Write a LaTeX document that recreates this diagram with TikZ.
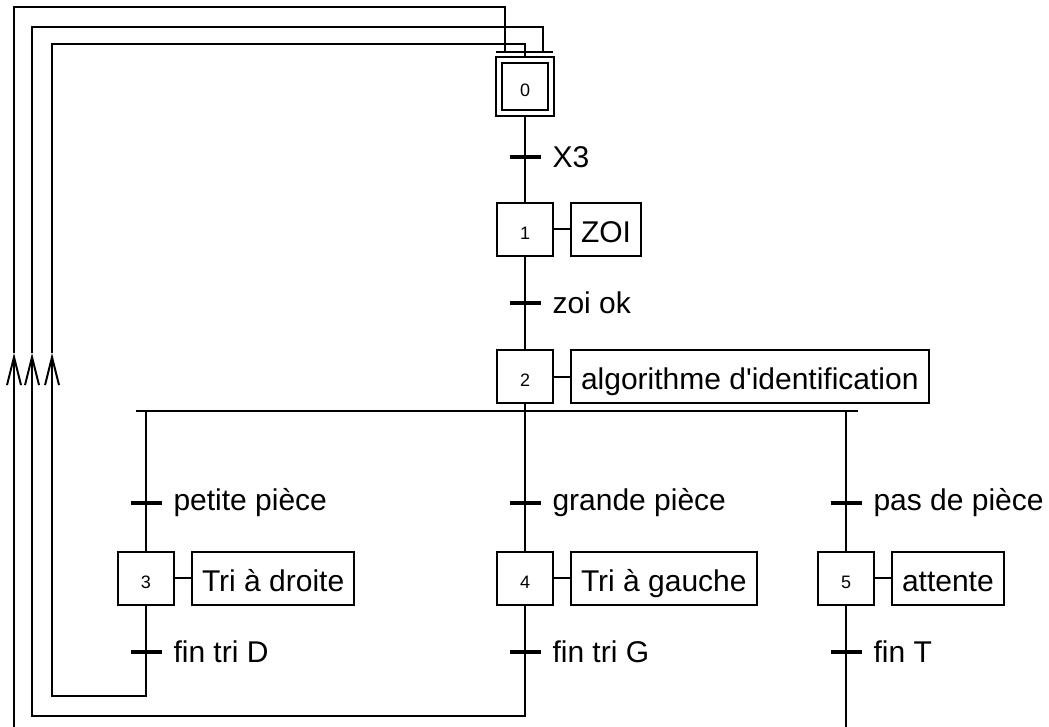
\documentclass[tikz,border=0pt]{standalone}
\usepackage{fontspec}
\setmainfont{Liberation Sans}
\usetikzlibrary{positioning,arrows.meta,calc}

\begin{document}
\begin{tikzpicture}[
    x=0.5pt, y=-0.5pt,
    line width=1pt,
    font={\fontsize{15}{18}\selectfont},
    stepbox/.style={draw,rectangle,minimum width=28pt,minimum height=26.5pt,inner sep=0pt,text height=10pt,text depth=0pt,font={\fontsize{9}{11}\selectfont}},
    initstep/.style={stepbox,double,double distance=2pt,minimum width=26pt,minimum height=26.5pt,outer sep=2pt},
    action/.style={draw,rectangle,minimum height=26.5pt,inner xsep=5pt,inner ysep=0pt,text height=13pt,text depth=0pt},
    trans/.style={fill,rectangle,minimum width=15.5pt,minimum height=1.75pt,inner sep=0pt},
    cond/.style={label={[inner sep=0pt,label distance=5pt]right:#1}},
    uptip/.style={-{Straight Barb[length=14pt,width=7pt]}},
]
    \useasboundingbox (0,0) rectangle (1049,727);

    % steps
    \node[initstep] (s0) at (525,87)    {0};
    \node[stepbox]  (s1) at (525,229.5) {1};
    \node[stepbox]  (s2) at (525,376.5) {2};
    \node[stepbox]  (s3) at (146,578)   {3};
    \node[stepbox]  (s4) at (525,578)   {4};
    \node[stepbox]  (s5) at (846,578)   {5};

    % actions
    \node[action,right=8pt of s1] (a1) {ZOI};
    \node[action,right=8pt of s2] (a2) {algorithme d\textquotesingle identification};
    \node[action,right=8pt of s3] (a3) {Tri à droite};
    \node[action,right=8pt of s4] (a4) {Tri à gauche};
    \node[action,right=8pt of s5] (a5) {attente};

    % transitions
    \node[trans,cond=X3]           (t0)  at (525,157) {};
    \node[trans,cond=zoi ok]       (t1)  at (525,303) {};
    \node[trans,cond=petite pièce] (t23) at (146,503) {};
    \node[trans,cond=grande pièce] (t24) at (525,503) {};
    \node[trans,cond=pas de pièce] (t25) at (846,503) {};
    \node[trans,cond=fin tri D]    (t3)  at (146,652) {};
    \node[trans,cond=fin tri G]    (t4)  at (525,652) {};
    \node[trans,cond=fin T]        (t5)  at (846,652) {};

    % bars and loop corners
    \coordinate (divL) at (136,411);
    \coordinate (divR) at (858,411);
    \coordinate (convL) at (496,52);
    \coordinate (convR) at (553,52);
    \coordinate (c4) at (543,52);
    \coordinate (c5) at (505,52);
    \coordinate (r3) at (52,696);
    \coordinate (r4) at (32,716);
    \coordinate (r5) at (846,727);
    \coordinate (e5) at (14,727);
    \coordinate (k3) at (52,353);
    \coordinate (k4) at (32,353);
    \coordinate (k5) at (14,353);

    \draw (s0) -- (s1);
    \draw (s1) -- (s2);
    \draw (s2) -- (s4);
    \draw (divL) -- (divR);
    \draw (s3.north |- divL) -- (s3.north);
    \draw (s5.north |- divR) -- (s5.north);
    \draw (convL) -- (convR);

    \draw (s1.east) -- (a1.west);
    \draw (s2.east) -- (a2.west);
    \draw (s3.east) -- (a3.west);
    \draw (s4.east) -- (a4.west);
    \draw (s5.east) -- (a5.west);

    % loops back to step 0
    \draw[uptip] (s3.south) |- (r3) -- (k3);
    \draw (k3) |- ($(s0.north)+(0,-12)$) -- (s0.north);

    \draw[uptip] (s4.south) |- (r4) -- (k4);
    \draw (k4) |- ($(c4)+(0,-25)$) -- (c4);

    \draw (s5.south) -- (r5);
    \draw[uptip] (e5) -- (k5);
    \draw (k5) |- ($(c5)+(0,-45)$) -- (c5);

\end{tikzpicture}
\end{document}
